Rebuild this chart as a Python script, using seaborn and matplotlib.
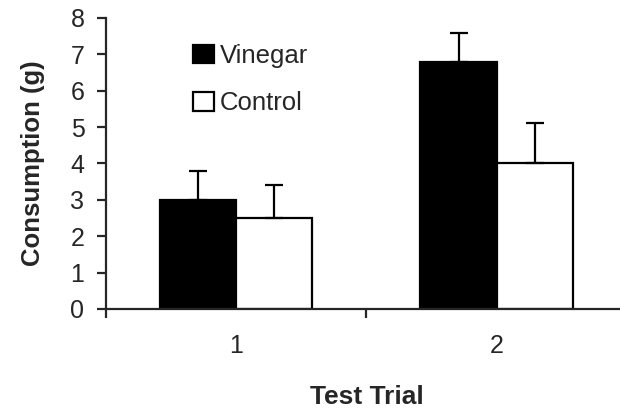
import pandas as pd
import matplotlib
matplotlib.use("Agg")
import matplotlib.pyplot as plt
import seaborn as sns

# Chart values
trials = ["1", "2"]
groups = ["Vinegar", "Control"]
vinegar = [3.0, 6.8]
control = [2.5, 4.0]
vinegar_err = [0.8, 0.8]
control_err = [0.9, 1.1]

df = pd.DataFrame({
    "Trial": trials * 2,
    "Group": ["Vinegar"] * 2 + ["Control"] * 2,
    "Consumption": vinegar + control,
})
errs = {"Vinegar": vinegar_err, "Control": control_err}

sns.set_style("ticks")
plt.rcParams["font.family"] = ["Liberation Sans", "DejaVu Sans"]

fig = plt.figure(figsize=(6.2, 4.09), dpi=100)
ax = fig.add_axes([0.171, 0.2445, 0.84, 0.7115])

sns.barplot(
    data=df, x="Trial", y="Consumption", hue="Group", hue_order=groups,
    palette={"Vinegar": "black", "Control": "white"},
    edgecolor="black", linewidth=1.6, width=0.585, gap=0,
    errorbar=None, ax=ax,
)

# upward-only error bars on top of each bar
for group, container in zip(groups, ax.containers):
    xs = [b.get_x() + b.get_width() / 2 for b in container]
    hs = [b.get_height() for b in container]
    ax.errorbar(xs, hs, yerr=[[0] * len(hs), errs[group]], fmt="none",
                ecolor="black", elinewidth=1.6, capsize=6.5, capthick=1.6)

ax.set_xlim(-0.5, 1.5)
ax.set_ylim(0, 8)
ax.set_yticks(range(0, 9))
ax.set_xticks([0, 1])
ax.set_xticklabels(trials)
ax.set_xticks([-0.5, 0.5, 1.5], minor=True)

sns.despine(ax=ax)
for side in ["left", "bottom"]:
    ax.spines[side].set_linewidth(1.6)

ax.tick_params(axis="y", which="major", length=6.5, width=1.6,
               labelsize=18, pad=9, direction="out")
ax.tick_params(axis="x", which="major", length=0, labelsize=18, pad=18)
ax.tick_params(axis="x", which="minor", length=6.5, width=1.6, direction="out")

ax.set_xlabel("Test Trial", fontsize=19, fontweight="bold")
ax.set_ylabel("Consumption (g)", fontsize=18.5, fontweight="bold")
ax.xaxis.set_label_coords(0.5, -0.262)
ax.yaxis.set_label_coords(-0.117, 0.5)

handles, labels = ax.get_legend_handles_labels()
ax.legend(handles, labels, loc="upper left", bbox_to_anchor=(0.148, 0.945),
          frameon=False, fontsize=18.5, handlelength=0.8, handleheight=0.72,
          handletextpad=0.24, labelspacing=0.9, borderaxespad=0)

fig.savefig("out.png", dpi=100)
